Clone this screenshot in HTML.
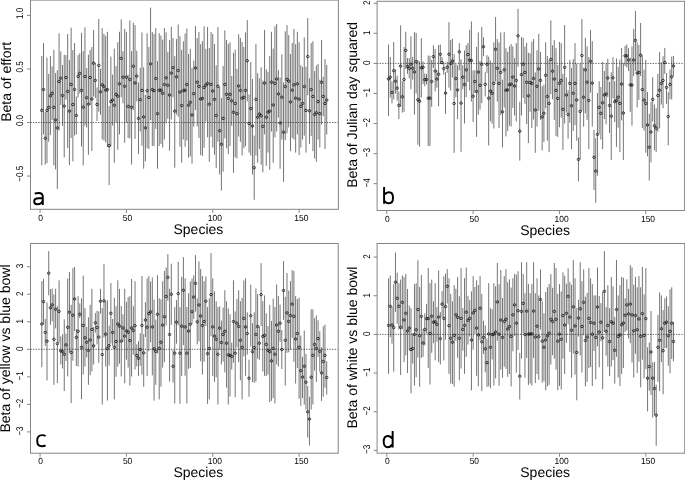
<!DOCTYPE html><html><head><meta charset="utf-8"><style>html,body{margin:0;padding:0;background:#fff;}svg{display:block;}#w{width:685px;height:480px;overflow:hidden;filter:grayscale(1);}text{font-family:"Liberation Sans",sans-serif;text-rendering:geometricPrecision;}</style></head><body>
<div id="w">
<svg width="685" height="480" viewBox="0 0 685 480">
<rect width="685" height="480" fill="#fff"/>
<path d="M41.78 55.9V165.3M43.50 43.1V134.4M45.23 112.0V164.6M46.96 57.7V163.1M48.68 73.9V141.7M50.41 55.9V135.1M52.14 66.4V120.2M53.87 49.9V165.5M55.59 73.1V169.4M57.32 70.2V189.1M59.05 33.3V130.7M60.77 51.4V105.0M62.50 65.0V126.0M64.23 54.7V157.4M65.95 55.2V99.8M67.68 34.0V148.2M69.41 59.9V165.0M71.14 27.7V138.0M72.86 50.0V161.4M74.59 43.1V135.5M76.32 96.6V134.4M78.04 55.2V97.6M79.77 53.3V93.5M81.50 32.8V146.5M83.22 51.1V165.5M84.95 27.3V125.7M86.68 67.9V127.5M88.41 54.7V154.8M90.13 50.0V105.0M91.86 47.0V150.9M93.59 29.9V96.5M95.31 62.8V98.0M97.04 87.5V121.0M98.77 19.0V111.8M100.50 68.8V114.8M102.22 28.2V139.5M103.95 33.9V140.5M105.68 35.8V142.4M107.40 31.8V147.2M109.13 106.0V185.2M110.86 56.6V146.6M112.58 74.6V125.6M114.31 48.6V162.8M116.04 66.1V122.5M117.77 42.3V149.7M119.49 31.8V134.4M121.22 19.4V97.4M122.95 51.1V103.3M124.67 28.9V142.8M126.40 31.8V122.6M128.13 74.8V138.0M129.85 20.4V138.4M131.58 51.1V164.6M133.31 22.6V110.0M135.03 25.1V138.8M136.76 50.8V101.4M138.49 82.6V154.1M140.22 67.9V131.5M141.94 32.4V145.8M143.67 67.2V168.7M145.40 95.0V161.4M147.12 33.3V148.1M148.85 47.0V149.0M150.58 7.6V120.2M152.31 32.1V146.0M154.03 33.9V146.0M155.76 28.2V128.8M157.49 61.0V168.7M159.21 33.3V146.0M160.94 35.5V143.9M162.67 39.7V147.5M164.39 28.0V139.5M166.12 32.4V123.2M167.85 51.8V118.8M169.57 40.1V150.7M171.30 26.7V119.5M173.03 38.0V97.4M174.76 56.2V167.7M176.48 39.1V114.5M178.21 24.4V116.6M179.94 36.2V146.8M181.66 49.9V162.8M183.39 41.3V139.5M185.12 33.6V146.8M186.85 28.5V140.5M188.57 54.0V157.7M190.30 48.9V156.3M192.03 67.9V163.6M193.75 60.6V126.6M195.48 26.0V110.0M197.21 38.0V126.4M198.93 32.1V138.0M200.66 44.2V155.1M202.39 41.2V156.0M204.12 26.3V147.8M205.84 48.9V121.3M207.57 27.0V137.3M209.30 47.9V161.8M211.02 32.1V136.7M212.75 34.0V147.5M214.48 44.1V154.8M216.20 65.4V168.2M217.93 27.0V141.7M219.66 86.9V174.5M221.38 98.0V190.6M223.11 66.0V171.6M224.84 30.4V138.4M226.57 39.9V148.2M228.29 43.8V154.1M230.02 42.3V146.0M231.75 76.0V125.8M233.47 52.8V172.8M235.20 49.6V157.4M236.93 68.9V158.5M238.66 34.3V136.6M240.38 38.0V141.7M242.11 42.0V155.5M243.84 47.0V148.2M245.56 32.4V146.4M247.29 20.1V101.3M249.02 94.4V152.6M250.74 62.0V155.5M252.47 79.0V174.5M254.20 135.6V199.8M255.93 44.2V155.5M257.65 73.1V162.8M259.38 78.2V149.0M261.11 67.2V164.7M262.83 80.5V172.3M264.56 29.9V134.4M266.29 69.3V165.8M268.01 71.7V152.6M269.74 55.9V169.7M271.47 31.8V131.5M273.19 48.6V162.8M274.92 26.3V137.3M276.65 24.1V131.5M278.38 70.2V117.6M280.10 77.5V168.7M281.83 54.5V139.5M283.56 82.6V181.8M285.28 31.4V140.2M287.01 25.1V133.5M288.74 35.0V127.4M290.47 54.0V151.2M292.19 43.1V138.0M293.92 28.9V139.5M295.65 44.2V152.6M297.37 31.8V134.4M299.10 42.3V155.1M300.83 65.0V147.5M302.55 66.9V139.5M304.28 37.5V135.7M306.01 66.6V152.6M307.74 18.0V95.2M309.46 78.2V143.9M311.19 43.1V136.1M312.92 41.3V151.2M314.64 71.0V158.5M316.37 65.4V161.8M318.10 63.9V139.5M319.82 79.7V147.5M321.55 40.1V124.5M323.28 76.8V116.2M325.01 59.1V149.0M326.73 65.0V134.4" stroke="#000" stroke-width="0.55" fill="none"/>
<line x1="30.5" y1="122.50" x2="338.4" y2="122.50" stroke="#333" stroke-width="0.8" stroke-dasharray="1.3 1.3"/>
<g fill="none" stroke="#000" stroke-width="0.7"><ellipse cx="41.78" cy="110.4" rx="1.3" ry="1.2"/><ellipse cx="43.50" cy="89.5" rx="1.3" ry="1.2"/><ellipse cx="45.23" cy="138.3" rx="1.3" ry="1.2"/><ellipse cx="46.96" cy="110.4" rx="1.3" ry="1.2"/><ellipse cx="48.68" cy="107.4" rx="1.3" ry="1.2"/><ellipse cx="50.41" cy="95.8" rx="1.3" ry="1.2"/><ellipse cx="52.14" cy="93.3" rx="1.3" ry="1.2"/><ellipse cx="53.87" cy="107.4" rx="1.3" ry="1.2"/><ellipse cx="55.59" cy="119.9" rx="1.3" ry="1.2"/><ellipse cx="57.32" cy="127.9" rx="1.3" ry="1.2"/><ellipse cx="59.05" cy="81.5" rx="1.3" ry="1.2"/><ellipse cx="60.77" cy="78.2" rx="1.3" ry="1.2"/><ellipse cx="62.50" cy="95.5" rx="1.3" ry="1.2"/><ellipse cx="64.23" cy="106.1" rx="1.3" ry="1.2"/><ellipse cx="65.95" cy="77.5" rx="1.3" ry="1.2"/><ellipse cx="67.68" cy="91.4" rx="1.3" ry="1.2"/><ellipse cx="69.41" cy="111.1" rx="1.3" ry="1.2"/><ellipse cx="71.14" cy="84.4" rx="1.3" ry="1.2"/><ellipse cx="72.86" cy="104.5" rx="1.3" ry="1.2"/><ellipse cx="74.59" cy="89.5" rx="1.3" ry="1.2"/><ellipse cx="76.32" cy="115.5" rx="1.3" ry="1.2"/><ellipse cx="78.04" cy="76.4" rx="1.3" ry="1.2"/><ellipse cx="79.77" cy="73.4" rx="1.3" ry="1.2"/><ellipse cx="81.50" cy="90.4" rx="1.3" ry="1.2"/><ellipse cx="83.22" cy="107.2" rx="1.3" ry="1.2"/><ellipse cx="84.95" cy="76.5" rx="1.3" ry="1.2"/><ellipse cx="86.68" cy="97.7" rx="1.3" ry="1.2"/><ellipse cx="88.41" cy="104.2" rx="1.3" ry="1.2"/><ellipse cx="90.13" cy="77.5" rx="1.3" ry="1.2"/><ellipse cx="91.86" cy="99.0" rx="1.3" ry="1.2"/><ellipse cx="93.59" cy="63.2" rx="1.3" ry="1.2"/><ellipse cx="95.31" cy="80.4" rx="1.3" ry="1.2"/><ellipse cx="97.04" cy="104.5" rx="1.3" ry="1.2"/><ellipse cx="98.77" cy="65.4" rx="1.3" ry="1.2"/><ellipse cx="100.50" cy="91.8" rx="1.3" ry="1.2"/><ellipse cx="102.22" cy="84.8" rx="1.3" ry="1.2"/><ellipse cx="103.95" cy="86.6" rx="1.3" ry="1.2"/><ellipse cx="105.68" cy="90.2" rx="1.3" ry="1.2"/><ellipse cx="107.40" cy="89.5" rx="1.3" ry="1.2"/><ellipse cx="109.13" cy="145.6" rx="1.3" ry="1.2"/><ellipse cx="110.86" cy="101.6" rx="1.3" ry="1.2"/><ellipse cx="112.58" cy="100.1" rx="1.3" ry="1.2"/><ellipse cx="114.31" cy="105.3" rx="1.3" ry="1.2"/><ellipse cx="116.04" cy="94.3" rx="1.3" ry="1.2"/><ellipse cx="117.77" cy="96.2" rx="1.3" ry="1.2"/><ellipse cx="119.49" cy="83.8" rx="1.3" ry="1.2"/><ellipse cx="121.22" cy="58.4" rx="1.3" ry="1.2"/><ellipse cx="122.95" cy="77.2" rx="1.3" ry="1.2"/><ellipse cx="124.67" cy="86.3" rx="1.3" ry="1.2"/><ellipse cx="126.40" cy="77.2" rx="1.3" ry="1.2"/><ellipse cx="128.13" cy="106.4" rx="1.3" ry="1.2"/><ellipse cx="129.85" cy="79.4" rx="1.3" ry="1.2"/><ellipse cx="131.58" cy="107.2" rx="1.3" ry="1.2"/><ellipse cx="133.31" cy="66.3" rx="1.3" ry="1.2"/><ellipse cx="135.03" cy="82.9" rx="1.3" ry="1.2"/><ellipse cx="136.76" cy="76.1" rx="1.3" ry="1.2"/><ellipse cx="138.49" cy="118.4" rx="1.3" ry="1.2"/><ellipse cx="140.22" cy="99.7" rx="1.3" ry="1.2"/><ellipse cx="141.94" cy="90.4" rx="1.3" ry="1.2"/><ellipse cx="143.67" cy="116.9" rx="1.3" ry="1.2"/><ellipse cx="145.40" cy="127.9" rx="1.3" ry="1.2"/><ellipse cx="147.12" cy="90.7" rx="1.3" ry="1.2"/><ellipse cx="148.85" cy="97.5" rx="1.3" ry="1.2"/><ellipse cx="150.58" cy="63.9" rx="1.3" ry="1.2"/><ellipse cx="152.31" cy="89.6" rx="1.3" ry="1.2"/><ellipse cx="154.03" cy="90.7" rx="1.3" ry="1.2"/><ellipse cx="155.76" cy="78.5" rx="1.3" ry="1.2"/><ellipse cx="157.49" cy="113.6" rx="1.3" ry="1.2"/><ellipse cx="159.21" cy="90.2" rx="1.3" ry="1.2"/><ellipse cx="160.94" cy="90.2" rx="1.3" ry="1.2"/><ellipse cx="162.67" cy="93.3" rx="1.3" ry="1.2"/><ellipse cx="164.39" cy="84.5" rx="1.3" ry="1.2"/><ellipse cx="166.12" cy="77.8" rx="1.3" ry="1.2"/><ellipse cx="167.85" cy="85.3" rx="1.3" ry="1.2"/><ellipse cx="169.57" cy="95.0" rx="1.3" ry="1.2"/><ellipse cx="171.30" cy="73.1" rx="1.3" ry="1.2"/><ellipse cx="173.03" cy="67.7" rx="1.3" ry="1.2"/><ellipse cx="174.76" cy="111.1" rx="1.3" ry="1.2"/><ellipse cx="176.48" cy="76.8" rx="1.3" ry="1.2"/><ellipse cx="178.21" cy="70.5" rx="1.3" ry="1.2"/><ellipse cx="179.94" cy="92.1" rx="1.3" ry="1.2"/><ellipse cx="181.66" cy="105.5" rx="1.3" ry="1.2"/><ellipse cx="183.39" cy="90.7" rx="1.3" ry="1.2"/><ellipse cx="185.12" cy="90.2" rx="1.3" ry="1.2"/><ellipse cx="186.85" cy="84.5" rx="1.3" ry="1.2"/><ellipse cx="188.57" cy="105.3" rx="1.3" ry="1.2"/><ellipse cx="190.30" cy="102.3" rx="1.3" ry="1.2"/><ellipse cx="192.03" cy="115.0" rx="1.3" ry="1.2"/><ellipse cx="193.75" cy="93.6" rx="1.3" ry="1.2"/><ellipse cx="195.48" cy="68.0" rx="1.3" ry="1.2"/><ellipse cx="197.21" cy="82.2" rx="1.3" ry="1.2"/><ellipse cx="198.93" cy="86.3" rx="1.3" ry="1.2"/><ellipse cx="200.66" cy="99.1" rx="1.3" ry="1.2"/><ellipse cx="202.39" cy="98.4" rx="1.3" ry="1.2"/><ellipse cx="204.12" cy="87.4" rx="1.3" ry="1.2"/><ellipse cx="205.84" cy="85.1" rx="1.3" ry="1.2"/><ellipse cx="207.57" cy="83.4" rx="1.3" ry="1.2"/><ellipse cx="209.30" cy="104.2" rx="1.3" ry="1.2"/><ellipse cx="211.02" cy="84.4" rx="1.3" ry="1.2"/><ellipse cx="212.75" cy="91.0" rx="1.3" ry="1.2"/><ellipse cx="214.48" cy="99.4" rx="1.3" ry="1.2"/><ellipse cx="216.20" cy="115.5" rx="1.3" ry="1.2"/><ellipse cx="217.93" cy="86.3" rx="1.3" ry="1.2"/><ellipse cx="219.66" cy="130.7" rx="1.3" ry="1.2"/><ellipse cx="221.38" cy="144.3" rx="1.3" ry="1.2"/><ellipse cx="223.11" cy="118.4" rx="1.3" ry="1.2"/><ellipse cx="224.84" cy="84.4" rx="1.3" ry="1.2"/><ellipse cx="226.57" cy="94.3" rx="1.3" ry="1.2"/><ellipse cx="228.29" cy="98.4" rx="1.3" ry="1.2"/><ellipse cx="230.02" cy="94.3" rx="1.3" ry="1.2"/><ellipse cx="231.75" cy="100.9" rx="1.3" ry="1.2"/><ellipse cx="233.47" cy="112.3" rx="1.3" ry="1.2"/><ellipse cx="235.20" cy="103.5" rx="1.3" ry="1.2"/><ellipse cx="236.93" cy="113.7" rx="1.3" ry="1.2"/><ellipse cx="238.66" cy="86.0" rx="1.3" ry="1.2"/><ellipse cx="240.38" cy="90.4" rx="1.3" ry="1.2"/><ellipse cx="242.11" cy="98.2" rx="1.3" ry="1.2"/><ellipse cx="243.84" cy="97.4" rx="1.3" ry="1.2"/><ellipse cx="245.56" cy="90.4" rx="1.3" ry="1.2"/><ellipse cx="247.29" cy="60.7" rx="1.3" ry="1.2"/><ellipse cx="249.02" cy="123.5" rx="1.3" ry="1.2"/><ellipse cx="250.74" cy="108.5" rx="1.3" ry="1.2"/><ellipse cx="252.47" cy="126.0" rx="1.3" ry="1.2"/><ellipse cx="254.20" cy="167.7" rx="1.3" ry="1.2"/><ellipse cx="255.93" cy="99.4" rx="1.3" ry="1.2"/><ellipse cx="257.65" cy="117.2" rx="1.3" ry="1.2"/><ellipse cx="259.38" cy="114.0" rx="1.3" ry="1.2"/><ellipse cx="261.11" cy="115.8" rx="1.3" ry="1.2"/><ellipse cx="262.83" cy="126.4" rx="1.3" ry="1.2"/><ellipse cx="264.56" cy="83.1" rx="1.3" ry="1.2"/><ellipse cx="266.29" cy="117.2" rx="1.3" ry="1.2"/><ellipse cx="268.01" cy="112.1" rx="1.3" ry="1.2"/><ellipse cx="269.74" cy="111.1" rx="1.3" ry="1.2"/><ellipse cx="271.47" cy="82.2" rx="1.3" ry="1.2"/><ellipse cx="273.19" cy="105.0" rx="1.3" ry="1.2"/><ellipse cx="274.92" cy="83.4" rx="1.3" ry="1.2"/><ellipse cx="276.65" cy="79.0" rx="1.3" ry="1.2"/><ellipse cx="278.38" cy="93.9" rx="1.3" ry="1.2"/><ellipse cx="280.10" cy="123.1" rx="1.3" ry="1.2"/><ellipse cx="281.83" cy="97.2" rx="1.3" ry="1.2"/><ellipse cx="283.56" cy="132.2" rx="1.3" ry="1.2"/><ellipse cx="285.28" cy="86.6" rx="1.3" ry="1.2"/><ellipse cx="287.01" cy="79.3" rx="1.3" ry="1.2"/><ellipse cx="288.74" cy="81.2" rx="1.3" ry="1.2"/><ellipse cx="290.47" cy="101.9" rx="1.3" ry="1.2"/><ellipse cx="292.19" cy="90.2" rx="1.3" ry="1.2"/><ellipse cx="293.92" cy="84.8" rx="1.3" ry="1.2"/><ellipse cx="295.65" cy="98.2" rx="1.3" ry="1.2"/><ellipse cx="297.37" cy="83.8" rx="1.3" ry="1.2"/><ellipse cx="299.10" cy="99.1" rx="1.3" ry="1.2"/><ellipse cx="300.83" cy="106.4" rx="1.3" ry="1.2"/><ellipse cx="302.55" cy="103.4" rx="1.3" ry="1.2"/><ellipse cx="304.28" cy="86.6" rx="1.3" ry="1.2"/><ellipse cx="306.01" cy="110.4" rx="1.3" ry="1.2"/><ellipse cx="307.74" cy="56.6" rx="1.3" ry="1.2"/><ellipse cx="309.46" cy="110.8" rx="1.3" ry="1.2"/><ellipse cx="311.19" cy="89.6" rx="1.3" ry="1.2"/><ellipse cx="312.92" cy="96.5" rx="1.3" ry="1.2"/><ellipse cx="314.64" cy="114.5" rx="1.3" ry="1.2"/><ellipse cx="316.37" cy="112.8" rx="1.3" ry="1.2"/><ellipse cx="318.10" cy="101.6" rx="1.3" ry="1.2"/><ellipse cx="319.82" cy="113.6" rx="1.3" ry="1.2"/><ellipse cx="321.55" cy="82.3" rx="1.3" ry="1.2"/><ellipse cx="323.28" cy="96.5" rx="1.3" ry="1.2"/><ellipse cx="325.01" cy="103.5" rx="1.3" ry="1.2"/><ellipse cx="326.73" cy="100.1" rx="1.3" ry="1.2"/></g>
<rect x="30.5" y="0.1" width="307.9" height="209.2" fill="none" stroke="#858585" stroke-width="1"/>
<line x1="40.05" y1="209.4" x2="40.05" y2="212.9" stroke="#858585" stroke-width="1"/>
<text transform="translate(40.50 221.00) scale(1 1.04)" font-size="8.5" text-anchor="middle" fill="#000">0</text>
<line x1="126.40" y1="209.4" x2="126.40" y2="212.9" stroke="#858585" stroke-width="1"/>
<text transform="translate(127.60 221.00) scale(1 1.04)" font-size="8.5" text-anchor="middle" fill="#000">50</text>
<line x1="212.75" y1="209.4" x2="212.75" y2="212.9" stroke="#858585" stroke-width="1"/>
<text transform="translate(214.95 221.00) scale(1 1.04)" font-size="8.5" text-anchor="middle" fill="#000">100</text>
<line x1="299.10" y1="209.4" x2="299.10" y2="212.9" stroke="#858585" stroke-width="1"/>
<text transform="translate(301.30 221.00) scale(1 1.04)" font-size="8.5" text-anchor="middle" fill="#000">150</text>
<line x1="27.0" y1="176.05" x2="30.5" y2="176.05" stroke="#858585" stroke-width="1"/>
<text transform="translate(23.10 173.85) rotate(-90) scale(0.95 1.15)" font-size="8.5" text-anchor="middle" fill="#000">−0.5</text>
<line x1="27.0" y1="122.50" x2="30.5" y2="122.50" stroke="#858585" stroke-width="1"/>
<text transform="translate(23.10 120.50) rotate(-90) scale(0.95 1.15)" font-size="8.5" text-anchor="middle" fill="#000">0.0</text>
<line x1="27.0" y1="68.95" x2="30.5" y2="68.95" stroke="#858585" stroke-width="1"/>
<text transform="translate(23.10 66.95) rotate(-90) scale(0.95 1.15)" font-size="8.5" text-anchor="middle" fill="#000">0.5</text>
<line x1="27.0" y1="15.40" x2="30.5" y2="15.40" stroke="#858585" stroke-width="1"/>
<text transform="translate(23.10 13.40) rotate(-90) scale(0.95 1.15)" font-size="8.5" text-anchor="middle" fill="#000">1.0</text>
<text x="198.4" y="233.9" font-size="14" text-anchor="middle" fill="#000">Species</text>
<text transform="translate(10.50 81.85) rotate(-90)" font-size="14" text-anchor="middle" fill="#000">Beta of effort</text>
<path d="M34.7 193.7C36.0 193.0 37.6 192.9 38.9 192.9C41.6 192.9 42.8 194.2 42.8 196.9V205.1M42.8 198.3H38.6C35.6 198.3 34.2 199.5 34.2 201.5C34.2 203.3 35.4 204.3 37.3 204.3C40.3 204.3 42.8 202.4 42.8 199.3" stroke="#000" stroke-width="1.95" fill="none"/>
<path d="M388.52 44.5V116.2M390.24 56.9V97.5M391.97 81.3V103.5M393.70 42.0V99.4M395.42 69.3V93.6M397.15 75.8V100.6M398.88 91.5V119.1M400.60 25.3V106.9M402.33 81.0V112.6M404.06 47.0V111.8M405.78 31.8V69.0M407.51 58.1V73.9M409.24 58.1V78.2M410.96 36.2V89.2M412.69 56.9V79.7M414.42 32.1V114.7M416.14 32.8V93.6M417.87 60.1V144.8M419.60 61.3V146.7M421.32 38.2V97.6M423.05 61.3V84.1M424.78 73.5V86.3M426.50 74.0V84.5M428.23 55.5V146.0M429.96 55.8V146.0M431.68 59.9V106.7M433.41 45.3V68.0M435.14 48.9V91.4M436.86 70.3V87.7M438.59 45.0V106.4M440.32 44.5V64.1M442.04 56.9V64.4M443.77 62.6V74.6M445.50 72.2V114.0M447.22 61.6V72.8M448.95 22.2V87.7M450.68 40.1V90.7M452.40 38.7V77.5M454.13 54.2V152.8M455.86 64.2V97.2M457.58 65.4V119.1M459.31 43.1V70.2M461.04 59.1V151.8M462.76 65.2V89.2M464.49 50.4V123.5M466.22 45.3V97.2M467.94 43.1V81.9M469.67 29.7V90.5M471.40 21.5V101.6M473.12 70.4V122.0M474.85 70.2V92.8M476.58 47.0V136.8M478.31 32.4V114.7M480.03 61.0V109.6M481.76 27.0V103.1M483.49 37.2V56.2M485.21 72.3V96.5M486.94 55.2V73.1M488.67 56.6V145.5M490.39 60.6V121.4M492.12 62.9V123.7M493.85 42.3V128.5M495.57 17.1V81.5M497.30 39.1V101.6M499.03 42.3V128.0M500.75 32.4V115.2M502.48 79.7V147.4M504.21 32.1V107.5M505.93 48.2V136.4M507.66 51.8V131.0M509.39 46.4V125.8M511.11 44.1V126.6M512.84 46.4V107.8M514.57 58.1V115.5M516.29 43.1V121.5M518.02 8.8V66.6M519.75 101.8V160.6M521.47 37.2V115.5M523.20 37.7V98.0M524.93 46.4V103.8M526.65 42.8V124.1M528.38 52.8V143.1M530.11 53.3V111.9M531.83 41.6V128.0M533.56 39.1V119.6M535.29 72.4V152.8M537.01 50.4V126.6M538.74 33.9V110.8M540.47 51.8V119.9M542.19 86.3V150.4M543.92 84.7V141.9M545.65 42.3V108.3M547.37 55.9V140.7M549.10 59.9V152.1M550.83 20.4V94.3M552.55 45.3V99.4M554.28 40.1V119.9M556.01 48.2V136.1M557.73 65.0V136.8M559.46 42.0V127.3M561.19 43.1V117.7M562.91 73.9V149.9M564.64 25.1V123.5M566.37 77.5V112.5M568.09 90.3V138.7M569.82 60.1V122.8M571.55 68.0V149.2M573.27 59.1V131.0M575.00 43.1V125.1M576.73 63.5V140.7M578.45 137.5V181.3M580.18 63.4V159.4M581.91 19.0V111.1M583.63 67.8V126.6M585.36 37.7V113.3M587.09 46.4V119.9M588.81 56.9V149.1M590.54 29.9V92.7M592.27 41.2V126.5M593.99 130.0V190.0M595.72 138.0V202.8M597.45 93.0V175.7M599.17 81.2V133.6M600.90 87.0V139.6M602.63 62.0V149.1M604.35 71.0V119.0M606.08 63.5V124.3M607.81 58.8V97.2M609.53 81.9V133.0M611.26 72.4V160.0M612.99 57.2V98.4M614.71 81.2V122.0M616.44 58.4V146.9M618.17 66.8V127.6M619.89 59.6V152.0M621.62 47.9V120.3M623.35 62.8V160.0M625.07 46.0V66.0M626.80 44.5V67.3M628.53 48.2V71.0M630.25 57.7V111.9M631.98 46.4V125.7M633.71 28.8V76.1M635.43 10.9V71.0M637.16 42.3V107.4M638.89 45.0V99.8M640.61 22.9V76.1M642.34 55.5V128.0M644.07 69.7V130.5M645.80 59.9V152.7M647.52 92.1V156.4M649.25 113.9V180.5M650.98 101.6V162.4M652.70 77.2V121.6M654.43 104.5V150.5M656.16 108.2V152.0M657.88 73.9V131.6M659.61 52.1V128.3M661.34 62.5V104.5M663.06 56.2V108.2M664.79 47.9V73.9M666.52 73.1V103.8M668.24 92.1V145.4M669.97 69.5V99.3M671.70 56.6V99.4M673.42 55.9V76.1" stroke="#000" stroke-width="0.55" fill="none"/>
<line x1="377.1" y1="63.40" x2="684.6" y2="63.40" stroke="#333" stroke-width="0.8" stroke-dasharray="1.3 1.3"/>
<g fill="none" stroke="#000" stroke-width="0.7"><ellipse cx="388.52" cy="79.0" rx="1.3" ry="1.2"/><ellipse cx="390.24" cy="77.2" rx="1.3" ry="1.2"/><ellipse cx="391.97" cy="92.4" rx="1.3" ry="1.2"/><ellipse cx="393.70" cy="70.7" rx="1.3" ry="1.2"/><ellipse cx="395.42" cy="81.2" rx="1.3" ry="1.2"/><ellipse cx="397.15" cy="88.2" rx="1.3" ry="1.2"/><ellipse cx="398.88" cy="105.3" rx="1.3" ry="1.2"/><ellipse cx="400.60" cy="66.1" rx="1.3" ry="1.2"/><ellipse cx="402.33" cy="96.8" rx="1.3" ry="1.2"/><ellipse cx="404.06" cy="79.4" rx="1.3" ry="1.2"/><ellipse cx="405.78" cy="50.4" rx="1.3" ry="1.2"/><ellipse cx="407.51" cy="66.4" rx="1.3" ry="1.2"/><ellipse cx="409.24" cy="68.3" rx="1.3" ry="1.2"/><ellipse cx="410.96" cy="64.2" rx="1.3" ry="1.2"/><ellipse cx="412.69" cy="68.3" rx="1.3" ry="1.2"/><ellipse cx="414.42" cy="72.0" rx="1.3" ry="1.2"/><ellipse cx="416.14" cy="61.6" rx="1.3" ry="1.2"/><ellipse cx="417.87" cy="99.7" rx="1.3" ry="1.2"/><ellipse cx="419.60" cy="101.2" rx="1.3" ry="1.2"/><ellipse cx="421.32" cy="67.9" rx="1.3" ry="1.2"/><ellipse cx="423.05" cy="67.2" rx="1.3" ry="1.2"/><ellipse cx="424.78" cy="79.7" rx="1.3" ry="1.2"/><ellipse cx="426.50" cy="79.5" rx="1.3" ry="1.2"/><ellipse cx="428.23" cy="98.2" rx="1.3" ry="1.2"/><ellipse cx="429.96" cy="98.2" rx="1.3" ry="1.2"/><ellipse cx="431.68" cy="81.5" rx="1.3" ry="1.2"/><ellipse cx="433.41" cy="56.6" rx="1.3" ry="1.2"/><ellipse cx="435.14" cy="71.0" rx="1.3" ry="1.2"/><ellipse cx="436.86" cy="79.0" rx="1.3" ry="1.2"/><ellipse cx="438.59" cy="74.3" rx="1.3" ry="1.2"/><ellipse cx="440.32" cy="54.3" rx="1.3" ry="1.2"/><ellipse cx="442.04" cy="62.5" rx="1.3" ry="1.2"/><ellipse cx="443.77" cy="68.6" rx="1.3" ry="1.2"/><ellipse cx="445.50" cy="93.1" rx="1.3" ry="1.2"/><ellipse cx="447.22" cy="67.2" rx="1.3" ry="1.2"/><ellipse cx="448.95" cy="54.3" rx="1.3" ry="1.2"/><ellipse cx="450.68" cy="63.5" rx="1.3" ry="1.2"/><ellipse cx="452.40" cy="61.0" rx="1.3" ry="1.2"/><ellipse cx="454.13" cy="103.5" rx="1.3" ry="1.2"/><ellipse cx="455.86" cy="78.5" rx="1.3" ry="1.2"/><ellipse cx="457.58" cy="89.9" rx="1.3" ry="1.2"/><ellipse cx="459.31" cy="51.8" rx="1.3" ry="1.2"/><ellipse cx="461.04" cy="103.1" rx="1.3" ry="1.2"/><ellipse cx="462.76" cy="77.2" rx="1.3" ry="1.2"/><ellipse cx="464.49" cy="84.5" rx="1.3" ry="1.2"/><ellipse cx="466.22" cy="69.8" rx="1.3" ry="1.2"/><ellipse cx="467.94" cy="54.5" rx="1.3" ry="1.2"/><ellipse cx="469.67" cy="60.1" rx="1.3" ry="1.2"/><ellipse cx="471.40" cy="60.6" rx="1.3" ry="1.2"/><ellipse cx="473.12" cy="96.2" rx="1.3" ry="1.2"/><ellipse cx="474.85" cy="81.5" rx="1.3" ry="1.2"/><ellipse cx="476.58" cy="91.4" rx="1.3" ry="1.2"/><ellipse cx="478.31" cy="72.1" rx="1.3" ry="1.2"/><ellipse cx="480.03" cy="85.3" rx="1.3" ry="1.2"/><ellipse cx="481.76" cy="64.2" rx="1.3" ry="1.2"/><ellipse cx="483.49" cy="46.7" rx="1.3" ry="1.2"/><ellipse cx="485.21" cy="84.4" rx="1.3" ry="1.2"/><ellipse cx="486.94" cy="64.2" rx="1.3" ry="1.2"/><ellipse cx="488.67" cy="98.2" rx="1.3" ry="1.2"/><ellipse cx="490.39" cy="91.0" rx="1.3" ry="1.2"/><ellipse cx="492.12" cy="93.3" rx="1.3" ry="1.2"/><ellipse cx="493.85" cy="83.4" rx="1.3" ry="1.2"/><ellipse cx="495.57" cy="49.3" rx="1.3" ry="1.2"/><ellipse cx="497.30" cy="68.3" rx="1.3" ry="1.2"/><ellipse cx="499.03" cy="83.4" rx="1.3" ry="1.2"/><ellipse cx="500.75" cy="72.4" rx="1.3" ry="1.2"/><ellipse cx="502.48" cy="111.8" rx="1.3" ry="1.2"/><ellipse cx="504.21" cy="69.8" rx="1.3" ry="1.2"/><ellipse cx="505.93" cy="90.2" rx="1.3" ry="1.2"/><ellipse cx="507.66" cy="89.9" rx="1.3" ry="1.2"/><ellipse cx="509.39" cy="84.8" rx="1.3" ry="1.2"/><ellipse cx="511.11" cy="84.1" rx="1.3" ry="1.2"/><ellipse cx="512.84" cy="77.1" rx="1.3" ry="1.2"/><ellipse cx="514.57" cy="86.0" rx="1.3" ry="1.2"/><ellipse cx="516.29" cy="80.4" rx="1.3" ry="1.2"/><ellipse cx="518.02" cy="35.8" rx="1.3" ry="1.2"/><ellipse cx="519.75" cy="131.2" rx="1.3" ry="1.2"/><ellipse cx="521.47" cy="74.6" rx="1.3" ry="1.2"/><ellipse cx="523.20" cy="64.2" rx="1.3" ry="1.2"/><ellipse cx="524.93" cy="72.4" rx="1.3" ry="1.2"/><ellipse cx="526.65" cy="82.3" rx="1.3" ry="1.2"/><ellipse cx="528.38" cy="95.8" rx="1.3" ry="1.2"/><ellipse cx="530.11" cy="82.6" rx="1.3" ry="1.2"/><ellipse cx="531.83" cy="83.4" rx="1.3" ry="1.2"/><ellipse cx="533.56" cy="78.5" rx="1.3" ry="1.2"/><ellipse cx="535.29" cy="109.9" rx="1.3" ry="1.2"/><ellipse cx="537.01" cy="86.3" rx="1.3" ry="1.2"/><ellipse cx="538.74" cy="68.9" rx="1.3" ry="1.2"/><ellipse cx="540.47" cy="80.4" rx="1.3" ry="1.2"/><ellipse cx="542.19" cy="116.9" rx="1.3" ry="1.2"/><ellipse cx="543.92" cy="113.3" rx="1.3" ry="1.2"/><ellipse cx="545.65" cy="75.3" rx="1.3" ry="1.2"/><ellipse cx="547.37" cy="96.5" rx="1.3" ry="1.2"/><ellipse cx="549.10" cy="103.4" rx="1.3" ry="1.2"/><ellipse cx="550.83" cy="59.4" rx="1.3" ry="1.2"/><ellipse cx="552.55" cy="71.2" rx="1.3" ry="1.2"/><ellipse cx="554.28" cy="79.0" rx="1.3" ry="1.2"/><ellipse cx="556.01" cy="90.4" rx="1.3" ry="1.2"/><ellipse cx="557.73" cy="98.4" rx="1.3" ry="1.2"/><ellipse cx="559.46" cy="83.4" rx="1.3" ry="1.2"/><ellipse cx="561.19" cy="80.4" rx="1.3" ry="1.2"/><ellipse cx="562.91" cy="109.3" rx="1.3" ry="1.2"/><ellipse cx="564.64" cy="67.4" rx="1.3" ry="1.2"/><ellipse cx="566.37" cy="95.0" rx="1.3" ry="1.2"/><ellipse cx="568.09" cy="114.5" rx="1.3" ry="1.2"/><ellipse cx="569.82" cy="83.4" rx="1.3" ry="1.2"/><ellipse cx="571.55" cy="105.7" rx="1.3" ry="1.2"/><ellipse cx="573.27" cy="93.3" rx="1.3" ry="1.2"/><ellipse cx="575.00" cy="83.4" rx="1.3" ry="1.2"/><ellipse cx="576.73" cy="99.9" rx="1.3" ry="1.2"/><ellipse cx="578.45" cy="159.4" rx="1.3" ry="1.2"/><ellipse cx="580.18" cy="111.4" rx="1.3" ry="1.2"/><ellipse cx="581.91" cy="55.5" rx="1.3" ry="1.2"/><ellipse cx="583.63" cy="97.2" rx="1.3" ry="1.2"/><ellipse cx="585.36" cy="69.8" rx="1.3" ry="1.2"/><ellipse cx="587.09" cy="82.2" rx="1.3" ry="1.2"/><ellipse cx="588.81" cy="100.4" rx="1.3" ry="1.2"/><ellipse cx="590.54" cy="61.3" rx="1.3" ry="1.2"/><ellipse cx="592.27" cy="83.1" rx="1.3" ry="1.2"/><ellipse cx="593.99" cy="157.3" rx="1.3" ry="1.2"/><ellipse cx="595.72" cy="171.1" rx="1.3" ry="1.2"/><ellipse cx="597.45" cy="134.4" rx="1.3" ry="1.2"/><ellipse cx="599.17" cy="107.4" rx="1.3" ry="1.2"/><ellipse cx="600.90" cy="113.3" rx="1.3" ry="1.2"/><ellipse cx="602.63" cy="102.8" rx="1.3" ry="1.2"/><ellipse cx="604.35" cy="95.0" rx="1.3" ry="1.2"/><ellipse cx="606.08" cy="93.9" rx="1.3" ry="1.2"/><ellipse cx="607.81" cy="78.0" rx="1.3" ry="1.2"/><ellipse cx="609.53" cy="105.5" rx="1.3" ry="1.2"/><ellipse cx="611.26" cy="116.2" rx="1.3" ry="1.2"/><ellipse cx="612.99" cy="77.8" rx="1.3" ry="1.2"/><ellipse cx="614.71" cy="101.6" rx="1.3" ry="1.2"/><ellipse cx="616.44" cy="100.6" rx="1.3" ry="1.2"/><ellipse cx="618.17" cy="97.2" rx="1.3" ry="1.2"/><ellipse cx="619.89" cy="103.4" rx="1.3" ry="1.2"/><ellipse cx="621.62" cy="84.1" rx="1.3" ry="1.2"/><ellipse cx="623.35" cy="113.0" rx="1.3" ry="1.2"/><ellipse cx="625.07" cy="55.8" rx="1.3" ry="1.2"/><ellipse cx="626.80" cy="55.9" rx="1.3" ry="1.2"/><ellipse cx="628.53" cy="59.9" rx="1.3" ry="1.2"/><ellipse cx="630.25" cy="84.8" rx="1.3" ry="1.2"/><ellipse cx="631.98" cy="85.1" rx="1.3" ry="1.2"/><ellipse cx="633.71" cy="60.1" rx="1.3" ry="1.2"/><ellipse cx="635.43" cy="40.4" rx="1.3" ry="1.2"/><ellipse cx="637.16" cy="73.1" rx="1.3" ry="1.2"/><ellipse cx="638.89" cy="72.4" rx="1.3" ry="1.2"/><ellipse cx="640.61" cy="55.2" rx="1.3" ry="1.2"/><ellipse cx="642.34" cy="89.6" rx="1.3" ry="1.2"/><ellipse cx="644.07" cy="100.1" rx="1.3" ry="1.2"/><ellipse cx="645.80" cy="103.5" rx="1.3" ry="1.2"/><ellipse cx="647.52" cy="125.0" rx="1.3" ry="1.2"/><ellipse cx="649.25" cy="147.2" rx="1.3" ry="1.2"/><ellipse cx="650.98" cy="132.0" rx="1.3" ry="1.2"/><ellipse cx="652.70" cy="99.4" rx="1.3" ry="1.2"/><ellipse cx="654.43" cy="125.7" rx="1.3" ry="1.2"/><ellipse cx="656.16" cy="128.3" rx="1.3" ry="1.2"/><ellipse cx="657.88" cy="95.5" rx="1.3" ry="1.2"/><ellipse cx="659.61" cy="90.2" rx="1.3" ry="1.2"/><ellipse cx="661.34" cy="83.4" rx="1.3" ry="1.2"/><ellipse cx="663.06" cy="80.4" rx="1.3" ry="1.2"/><ellipse cx="664.79" cy="62.5" rx="1.3" ry="1.2"/><ellipse cx="666.52" cy="87.4" rx="1.3" ry="1.2"/><ellipse cx="668.24" cy="116.5" rx="1.3" ry="1.2"/><ellipse cx="669.97" cy="84.4" rx="1.3" ry="1.2"/><ellipse cx="671.70" cy="76.8" rx="1.3" ry="1.2"/><ellipse cx="673.42" cy="66.0" rx="1.3" ry="1.2"/></g>
<rect x="377.1" y="1.3" width="307.5" height="209.2" fill="none" stroke="#858585" stroke-width="1"/>
<line x1="386.79" y1="210.5" x2="386.79" y2="214.0" stroke="#858585" stroke-width="1"/>
<text transform="translate(387.24 221.70) scale(1 1.04)" font-size="8.5" text-anchor="middle" fill="#000">0</text>
<line x1="473.12" y1="210.5" x2="473.12" y2="214.0" stroke="#858585" stroke-width="1"/>
<text transform="translate(474.32 221.70) scale(1 1.04)" font-size="8.5" text-anchor="middle" fill="#000">50</text>
<line x1="559.46" y1="210.5" x2="559.46" y2="214.0" stroke="#858585" stroke-width="1"/>
<text transform="translate(561.66 221.70) scale(1 1.04)" font-size="8.5" text-anchor="middle" fill="#000">100</text>
<line x1="645.80" y1="210.5" x2="645.80" y2="214.0" stroke="#858585" stroke-width="1"/>
<text transform="translate(648.00 221.70) scale(1 1.04)" font-size="8.5" text-anchor="middle" fill="#000">150</text>
<line x1="373.6" y1="183.68" x2="377.1" y2="183.68" stroke="#858585" stroke-width="1"/>
<text transform="translate(369.70 182.78) rotate(-90) scale(0.95 1.15)" font-size="8.5" text-anchor="middle" fill="#000">−4</text>
<line x1="373.6" y1="153.61" x2="377.1" y2="153.61" stroke="#858585" stroke-width="1"/>
<text transform="translate(369.70 152.71) rotate(-90) scale(0.95 1.15)" font-size="8.5" text-anchor="middle" fill="#000">−3</text>
<line x1="373.6" y1="123.54" x2="377.1" y2="123.54" stroke="#858585" stroke-width="1"/>
<text transform="translate(369.70 122.64) rotate(-90) scale(0.95 1.15)" font-size="8.5" text-anchor="middle" fill="#000">−2</text>
<line x1="373.6" y1="93.47" x2="377.1" y2="93.47" stroke="#858585" stroke-width="1"/>
<text transform="translate(369.70 92.57) rotate(-90) scale(0.95 1.15)" font-size="8.5" text-anchor="middle" fill="#000">−1</text>
<line x1="373.6" y1="63.40" x2="377.1" y2="63.40" stroke="#858585" stroke-width="1"/>
<text transform="translate(369.70 62.80) rotate(-90) scale(0.95 1.15)" font-size="8.5" text-anchor="middle" fill="#000">0</text>
<line x1="373.6" y1="33.33" x2="377.1" y2="33.33" stroke="#858585" stroke-width="1"/>
<text transform="translate(369.70 32.73) rotate(-90) scale(0.95 1.15)" font-size="8.5" text-anchor="middle" fill="#000">1</text>
<line x1="373.6" y1="3.26" x2="377.1" y2="3.26" stroke="#858585" stroke-width="1"/>
<text transform="translate(369.70 2.66) rotate(-90) scale(0.95 1.15)" font-size="8.5" text-anchor="middle" fill="#000">2</text>
<text x="545.1" y="234.5" font-size="14" text-anchor="middle" fill="#000">Species</text>
<text transform="translate(357.30 104.90) rotate(-90)" font-size="14" text-anchor="middle" fill="#000">Beta of Julian day squared</text>
<path d="M384.1 187V203.7M384.6 194.6C385.6 193.0 387.3 192.3 389.0 192.3C391.6 192.3 393.0 194.6 393.0 197.8C393.0 201.0 391.6 203.3 389.0 203.3C387.3 203.3 385.6 202.6 384.6 201.0" stroke="#000" stroke-width="1.95" fill="none"/>
<path d="M41.82 281.2V367.3M43.54 278.9V324.3M45.27 318.9V345.9M47.00 302.4V380.4M48.72 251.1V295.3M50.45 289.1V324.7M52.18 288.5V321.3M53.90 294.3V384.8M55.63 288.8V328.4M57.36 306.3V383.1M59.08 280.3V342.5M60.81 336.4V364.4M62.54 334.2V368.5M64.26 319.3V391.0M65.99 333.5V361.0M67.72 278.6V376.4M69.44 272.0V352.4M71.17 304.9V403.1M72.90 268.1V360.7M74.62 266.9V331.1M76.35 329.0V366.0M78.08 296.1V366.5M79.80 303.4V318.1M81.53 298.3V399.1M83.25 275.7V374.6M84.98 308.1V366.6M86.71 326.9V357.5M88.43 317.4V384.8M90.16 304.8V375.2M91.89 288.8V371.4M93.61 326.9V364.4M95.34 312.9V332.7M97.07 310.8V344.4M98.79 311.4V362.9M100.52 288.8V313.6M102.25 308.2V404.5M103.97 264.0V337.6M105.70 301.2V366.6M107.43 300.2V400.6M109.15 325.7V365.5M110.88 283.0V343.6M112.61 318.9V345.9M114.33 297.8V399.4M116.06 306.3V376.7M117.79 280.3V366.6M119.51 288.8V363.6M121.24 306.0V376.4M122.97 314.3V341.5M124.69 288.8V383.4M126.42 301.9V359.7M128.15 297.1V367.5M129.87 296.1V385.5M131.60 279.0V376.5M133.33 306.3V354.7M135.05 281.2V369.5M136.78 344.4V366.4M138.51 341.2V375.8M140.23 333.2V365.8M141.96 276.0V374.6M143.69 334.2V386.7M145.41 302.2V337.1M147.14 278.3V376.1M148.87 276.0V351.2M150.59 281.5V342.3M152.32 277.4V375.3M154.05 299.7V400.6M155.77 319.6V384.8M157.50 275.2V353.4M159.23 298.3V399.4M160.95 299.3V386.7M162.68 281.2V367.6M164.41 271.0V362.2M166.13 267.6V325.4M167.86 254.1V300.7M169.59 288.8V381.6M171.31 263.7V324.9M173.04 350.0V382.6M174.76 307.0V403.5M176.49 300.2V343.7M178.22 261.8V325.4M179.94 307.0V403.8M181.67 276.8V375.8M183.40 257.1V345.1M185.12 278.3V375.8M186.85 307.0V403.5M188.58 293.2V368.8M190.30 281.5V368.0M192.03 278.6V324.0M193.76 275.2V319.0M195.48 255.2V311.6M197.21 298.3V344.4M198.94 261.4V341.5M200.66 269.1V361.2M202.39 276.0V374.6M204.12 281.2V361.8M205.84 276.4V326.0M207.57 307.0V403.8M209.30 298.3V399.4M211.02 253.0V336.2M212.75 278.3V376.1M214.48 291.4V381.9M216.20 301.2V377.4M217.93 307.0V404.5M219.66 306.3V349.9M221.38 320.6V364.4M223.11 307.5V361.5M224.84 290.3V372.4M226.56 301.2V387.7M228.29 308.5V404.5M230.02 314.3V396.5M231.74 342.7V369.5M233.47 280.3V362.7M235.20 311.4V397.2M236.92 299.0V347.4M238.65 290.3V362.2M240.38 301.2V380.4M242.10 297.8V399.4M243.83 280.5V356.3M245.56 278.3V375.8M247.28 312.4V354.6M249.01 359.6V396.8M250.74 284.7V346.7M252.46 323.2V381.9M254.19 312.4V382.8M255.91 288.5V381.6M257.64 294.2V358.8M259.37 326.6V359.8M261.09 263.2V326.0M262.82 301.2V371.6M264.55 295.4V375.8M266.27 313.3V376.1M268.00 326.0V374.6M269.73 304.9V402.3M271.45 320.9V400.9M273.18 298.7V398.1M274.91 307.0V403.5M276.63 284.4V364.4M278.36 296.1V366.5M280.09 304.6V341.8M281.81 330.0V369.0M283.54 261.1V319.9M285.27 296.8V385.5M286.99 273.0V352.8M288.72 290.5V352.3M290.45 281.2V349.8M292.17 270.1V338.1M293.90 271.0V361.8M295.63 296.1V383.6M297.35 299.0V368.0M299.08 297.6V398.7M300.81 335.5V405.9M302.53 356.8V398.0M304.26 330.5V404.5M305.99 353.9V409.6M307.71 386.0V437.6M309.44 396.8V445.6M311.17 309.2V409.6M312.89 309.4V404.5M314.62 318.1V370.7M316.35 315.5V381.9M318.07 320.3V356.9M319.80 331.3V371.7M321.53 347.3V400.9M323.25 326.3V396.7M324.98 324.7V387.7M326.71 361.2V394.6" stroke="#000" stroke-width="0.55" fill="none"/>
<line x1="30.5" y1="349.30" x2="338.2" y2="349.30" stroke="#333" stroke-width="0.8" stroke-dasharray="1.3 1.3"/>
<g fill="none" stroke="#000" stroke-width="0.7"><ellipse cx="41.82" cy="324.0" rx="1.3" ry="1.2"/><ellipse cx="43.54" cy="301.6" rx="1.3" ry="1.2"/><ellipse cx="45.27" cy="332.4" rx="1.3" ry="1.2"/><ellipse cx="47.00" cy="341.2" rx="1.3" ry="1.2"/><ellipse cx="48.72" cy="273.2" rx="1.3" ry="1.2"/><ellipse cx="50.45" cy="307.8" rx="1.3" ry="1.2"/><ellipse cx="52.18" cy="304.9" rx="1.3" ry="1.2"/><ellipse cx="53.90" cy="339.3" rx="1.3" ry="1.2"/><ellipse cx="55.63" cy="309.2" rx="1.3" ry="1.2"/><ellipse cx="57.36" cy="343.7" rx="1.3" ry="1.2"/><ellipse cx="59.08" cy="311.4" rx="1.3" ry="1.2"/><ellipse cx="60.81" cy="351.0" rx="1.3" ry="1.2"/><ellipse cx="62.54" cy="351.4" rx="1.3" ry="1.2"/><ellipse cx="64.26" cy="354.3" rx="1.3" ry="1.2"/><ellipse cx="65.99" cy="344.9" rx="1.3" ry="1.2"/><ellipse cx="67.72" cy="327.3" rx="1.3" ry="1.2"/><ellipse cx="69.44" cy="312.2" rx="1.3" ry="1.2"/><ellipse cx="71.17" cy="352.4" rx="1.3" ry="1.2"/><ellipse cx="72.90" cy="315.2" rx="1.3" ry="1.2"/><ellipse cx="74.62" cy="299.0" rx="1.3" ry="1.2"/><ellipse cx="76.35" cy="337.4" rx="1.3" ry="1.2"/><ellipse cx="78.08" cy="331.3" rx="1.3" ry="1.2"/><ellipse cx="79.80" cy="314.3" rx="1.3" ry="1.2"/><ellipse cx="81.53" cy="347.3" rx="1.3" ry="1.2"/><ellipse cx="83.25" cy="325.4" rx="1.3" ry="1.2"/><ellipse cx="84.98" cy="337.8" rx="1.3" ry="1.2"/><ellipse cx="86.71" cy="342.2" rx="1.3" ry="1.2"/><ellipse cx="88.43" cy="350.5" rx="1.3" ry="1.2"/><ellipse cx="90.16" cy="340.0" rx="1.3" ry="1.2"/><ellipse cx="91.89" cy="329.5" rx="1.3" ry="1.2"/><ellipse cx="93.61" cy="345.9" rx="1.3" ry="1.2"/><ellipse cx="95.34" cy="322.8" rx="1.3" ry="1.2"/><ellipse cx="97.07" cy="327.6" rx="1.3" ry="1.2"/><ellipse cx="98.79" cy="337.1" rx="1.3" ry="1.2"/><ellipse cx="100.52" cy="301.2" rx="1.3" ry="1.2"/><ellipse cx="102.25" cy="354.6" rx="1.3" ry="1.2"/><ellipse cx="103.97" cy="300.8" rx="1.3" ry="1.2"/><ellipse cx="105.70" cy="334.2" rx="1.3" ry="1.2"/><ellipse cx="107.43" cy="348.5" rx="1.3" ry="1.2"/><ellipse cx="109.15" cy="345.6" rx="1.3" ry="1.2"/><ellipse cx="110.88" cy="313.3" rx="1.3" ry="1.2"/><ellipse cx="112.61" cy="332.4" rx="1.3" ry="1.2"/><ellipse cx="114.33" cy="347.3" rx="1.3" ry="1.2"/><ellipse cx="116.06" cy="341.5" rx="1.3" ry="1.2"/><ellipse cx="117.79" cy="324.0" rx="1.3" ry="1.2"/><ellipse cx="119.51" cy="326.2" rx="1.3" ry="1.2"/><ellipse cx="121.24" cy="341.2" rx="1.3" ry="1.2"/><ellipse cx="122.97" cy="327.9" rx="1.3" ry="1.2"/><ellipse cx="124.69" cy="336.1" rx="1.3" ry="1.2"/><ellipse cx="126.42" cy="330.8" rx="1.3" ry="1.2"/><ellipse cx="128.15" cy="332.3" rx="1.3" ry="1.2"/><ellipse cx="129.87" cy="340.5" rx="1.3" ry="1.2"/><ellipse cx="131.60" cy="327.9" rx="1.3" ry="1.2"/><ellipse cx="133.33" cy="330.5" rx="1.3" ry="1.2"/><ellipse cx="135.05" cy="325.7" rx="1.3" ry="1.2"/><ellipse cx="136.78" cy="355.4" rx="1.3" ry="1.2"/><ellipse cx="138.51" cy="358.3" rx="1.3" ry="1.2"/><ellipse cx="140.23" cy="349.5" rx="1.3" ry="1.2"/><ellipse cx="141.96" cy="325.4" rx="1.3" ry="1.2"/><ellipse cx="143.69" cy="352.9" rx="1.3" ry="1.2"/><ellipse cx="145.41" cy="320.0" rx="1.3" ry="1.2"/><ellipse cx="147.14" cy="327.2" rx="1.3" ry="1.2"/><ellipse cx="148.87" cy="313.6" rx="1.3" ry="1.2"/><ellipse cx="150.59" cy="311.9" rx="1.3" ry="1.2"/><ellipse cx="152.32" cy="326.9" rx="1.3" ry="1.2"/><ellipse cx="154.05" cy="348.8" rx="1.3" ry="1.2"/><ellipse cx="155.77" cy="351.4" rx="1.3" ry="1.2"/><ellipse cx="157.50" cy="314.3" rx="1.3" ry="1.2"/><ellipse cx="159.23" cy="348.4" rx="1.3" ry="1.2"/><ellipse cx="160.95" cy="342.2" rx="1.3" ry="1.2"/><ellipse cx="162.68" cy="325.1" rx="1.3" ry="1.2"/><ellipse cx="164.41" cy="316.7" rx="1.3" ry="1.2"/><ellipse cx="166.13" cy="296.5" rx="1.3" ry="1.2"/><ellipse cx="167.86" cy="277.4" rx="1.3" ry="1.2"/><ellipse cx="169.59" cy="334.5" rx="1.3" ry="1.2"/><ellipse cx="171.31" cy="294.3" rx="1.3" ry="1.2"/><ellipse cx="173.04" cy="366.3" rx="1.3" ry="1.2"/><ellipse cx="174.76" cy="353.2" rx="1.3" ry="1.2"/><ellipse cx="176.49" cy="322.2" rx="1.3" ry="1.2"/><ellipse cx="178.22" cy="293.6" rx="1.3" ry="1.2"/><ellipse cx="179.94" cy="353.2" rx="1.3" ry="1.2"/><ellipse cx="181.67" cy="326.2" rx="1.3" ry="1.2"/><ellipse cx="183.40" cy="290.3" rx="1.3" ry="1.2"/><ellipse cx="185.12" cy="326.9" rx="1.3" ry="1.2"/><ellipse cx="186.85" cy="353.2" rx="1.3" ry="1.2"/><ellipse cx="188.58" cy="331.0" rx="1.3" ry="1.2"/><ellipse cx="190.30" cy="324.3" rx="1.3" ry="1.2"/><ellipse cx="192.03" cy="311.7" rx="1.3" ry="1.2"/><ellipse cx="193.76" cy="297.1" rx="1.3" ry="1.2"/><ellipse cx="195.48" cy="283.4" rx="1.3" ry="1.2"/><ellipse cx="197.21" cy="321.8" rx="1.3" ry="1.2"/><ellipse cx="198.94" cy="305.0" rx="1.3" ry="1.2"/><ellipse cx="200.66" cy="316.0" rx="1.3" ry="1.2"/><ellipse cx="202.39" cy="325.4" rx="1.3" ry="1.2"/><ellipse cx="204.12" cy="321.5" rx="1.3" ry="1.2"/><ellipse cx="205.84" cy="301.2" rx="1.3" ry="1.2"/><ellipse cx="207.57" cy="353.6" rx="1.3" ry="1.2"/><ellipse cx="209.30" cy="348.4" rx="1.3" ry="1.2"/><ellipse cx="211.02" cy="294.6" rx="1.3" ry="1.2"/><ellipse cx="212.75" cy="326.9" rx="1.3" ry="1.2"/><ellipse cx="214.48" cy="336.1" rx="1.3" ry="1.2"/><ellipse cx="216.20" cy="339.3" rx="1.3" ry="1.2"/><ellipse cx="217.93" cy="354.3" rx="1.3" ry="1.2"/><ellipse cx="219.66" cy="328.1" rx="1.3" ry="1.2"/><ellipse cx="221.38" cy="342.5" rx="1.3" ry="1.2"/><ellipse cx="223.11" cy="334.5" rx="1.3" ry="1.2"/><ellipse cx="224.84" cy="331.3" rx="1.3" ry="1.2"/><ellipse cx="226.56" cy="343.2" rx="1.3" ry="1.2"/><ellipse cx="228.29" cy="354.9" rx="1.3" ry="1.2"/><ellipse cx="230.02" cy="355.4" rx="1.3" ry="1.2"/><ellipse cx="231.74" cy="356.4" rx="1.3" ry="1.2"/><ellipse cx="233.47" cy="321.5" rx="1.3" ry="1.2"/><ellipse cx="235.20" cy="353.2" rx="1.3" ry="1.2"/><ellipse cx="236.92" cy="323.2" rx="1.3" ry="1.2"/><ellipse cx="238.65" cy="326.5" rx="1.3" ry="1.2"/><ellipse cx="240.38" cy="340.3" rx="1.3" ry="1.2"/><ellipse cx="242.10" cy="347.3" rx="1.3" ry="1.2"/><ellipse cx="243.83" cy="318.4" rx="1.3" ry="1.2"/><ellipse cx="245.56" cy="326.9" rx="1.3" ry="1.2"/><ellipse cx="247.28" cy="333.5" rx="1.3" ry="1.2"/><ellipse cx="249.01" cy="378.2" rx="1.3" ry="1.2"/><ellipse cx="250.74" cy="315.7" rx="1.3" ry="1.2"/><ellipse cx="252.46" cy="351.7" rx="1.3" ry="1.2"/><ellipse cx="254.19" cy="347.6" rx="1.3" ry="1.2"/><ellipse cx="255.91" cy="334.5" rx="1.3" ry="1.2"/><ellipse cx="257.64" cy="326.5" rx="1.3" ry="1.2"/><ellipse cx="259.37" cy="343.2" rx="1.3" ry="1.2"/><ellipse cx="261.09" cy="294.6" rx="1.3" ry="1.2"/><ellipse cx="262.82" cy="336.4" rx="1.3" ry="1.2"/><ellipse cx="264.55" cy="335.4" rx="1.3" ry="1.2"/><ellipse cx="266.27" cy="344.4" rx="1.3" ry="1.2"/><ellipse cx="268.00" cy="350.3" rx="1.3" ry="1.2"/><ellipse cx="269.73" cy="351.7" rx="1.3" ry="1.2"/><ellipse cx="271.45" cy="360.9" rx="1.3" ry="1.2"/><ellipse cx="273.18" cy="348.4" rx="1.3" ry="1.2"/><ellipse cx="274.91" cy="354.2" rx="1.3" ry="1.2"/><ellipse cx="276.63" cy="325.0" rx="1.3" ry="1.2"/><ellipse cx="278.36" cy="331.3" rx="1.3" ry="1.2"/><ellipse cx="280.09" cy="323.2" rx="1.3" ry="1.2"/><ellipse cx="281.81" cy="349.5" rx="1.3" ry="1.2"/><ellipse cx="283.54" cy="290.5" rx="1.3" ry="1.2"/><ellipse cx="285.27" cy="340.3" rx="1.3" ry="1.2"/><ellipse cx="286.99" cy="312.9" rx="1.3" ry="1.2"/><ellipse cx="288.72" cy="321.4" rx="1.3" ry="1.2"/><ellipse cx="290.45" cy="315.5" rx="1.3" ry="1.2"/><ellipse cx="292.17" cy="304.1" rx="1.3" ry="1.2"/><ellipse cx="293.90" cy="316.4" rx="1.3" ry="1.2"/><ellipse cx="295.63" cy="339.0" rx="1.3" ry="1.2"/><ellipse cx="297.35" cy="333.5" rx="1.3" ry="1.2"/><ellipse cx="299.08" cy="347.3" rx="1.3" ry="1.2"/><ellipse cx="300.81" cy="370.7" rx="1.3" ry="1.2"/><ellipse cx="302.53" cy="377.1" rx="1.3" ry="1.2"/><ellipse cx="304.26" cy="366.3" rx="1.3" ry="1.2"/><ellipse cx="305.99" cy="382.2" rx="1.3" ry="1.2"/><ellipse cx="307.71" cy="411.8" rx="1.3" ry="1.2"/><ellipse cx="309.44" cy="419.1" rx="1.3" ry="1.2"/><ellipse cx="311.17" cy="377.2" rx="1.3" ry="1.2"/><ellipse cx="312.89" cy="355.4" rx="1.3" ry="1.2"/><ellipse cx="314.62" cy="344.4" rx="1.3" ry="1.2"/><ellipse cx="316.35" cy="348.4" rx="1.3" ry="1.2"/><ellipse cx="318.07" cy="338.6" rx="1.3" ry="1.2"/><ellipse cx="319.80" cy="351.3" rx="1.3" ry="1.2"/><ellipse cx="321.53" cy="372.9" rx="1.3" ry="1.2"/><ellipse cx="323.25" cy="361.5" rx="1.3" ry="1.2"/><ellipse cx="324.98" cy="355.4" rx="1.3" ry="1.2"/><ellipse cx="326.71" cy="377.5" rx="1.3" ry="1.2"/></g>
<rect x="30.5" y="243.5" width="307.7" height="209.7" fill="none" stroke="#858585" stroke-width="1"/>
<line x1="40.09" y1="453.2" x2="40.09" y2="456.7" stroke="#858585" stroke-width="1"/>
<text transform="translate(40.54 464.40) scale(1 1.04)" font-size="8.5" text-anchor="middle" fill="#000">0</text>
<line x1="126.42" y1="453.2" x2="126.42" y2="456.7" stroke="#858585" stroke-width="1"/>
<text transform="translate(127.62 464.40) scale(1 1.04)" font-size="8.5" text-anchor="middle" fill="#000">50</text>
<line x1="212.75" y1="453.2" x2="212.75" y2="456.7" stroke="#858585" stroke-width="1"/>
<text transform="translate(214.95 464.40) scale(1 1.04)" font-size="8.5" text-anchor="middle" fill="#000">100</text>
<line x1="299.08" y1="453.2" x2="299.08" y2="456.7" stroke="#858585" stroke-width="1"/>
<text transform="translate(301.28 464.40) scale(1 1.04)" font-size="8.5" text-anchor="middle" fill="#000">150</text>
<line x1="27.0" y1="431.89" x2="30.5" y2="431.89" stroke="#858585" stroke-width="1"/>
<text transform="translate(23.10 430.99) rotate(-90) scale(0.95 1.15)" font-size="8.5" text-anchor="middle" fill="#000">−3</text>
<line x1="27.0" y1="404.36" x2="30.5" y2="404.36" stroke="#858585" stroke-width="1"/>
<text transform="translate(23.10 403.46) rotate(-90) scale(0.95 1.15)" font-size="8.5" text-anchor="middle" fill="#000">−2</text>
<line x1="27.0" y1="376.83" x2="30.5" y2="376.83" stroke="#858585" stroke-width="1"/>
<text transform="translate(23.10 375.93) rotate(-90) scale(0.95 1.15)" font-size="8.5" text-anchor="middle" fill="#000">−1</text>
<line x1="27.0" y1="349.30" x2="30.5" y2="349.30" stroke="#858585" stroke-width="1"/>
<text transform="translate(23.10 348.70) rotate(-90) scale(0.95 1.15)" font-size="8.5" text-anchor="middle" fill="#000">0</text>
<line x1="27.0" y1="321.77" x2="30.5" y2="321.77" stroke="#858585" stroke-width="1"/>
<text transform="translate(23.10 321.17) rotate(-90) scale(0.95 1.15)" font-size="8.5" text-anchor="middle" fill="#000">1</text>
<line x1="27.0" y1="294.24" x2="30.5" y2="294.24" stroke="#858585" stroke-width="1"/>
<text transform="translate(23.10 293.64) rotate(-90) scale(0.95 1.15)" font-size="8.5" text-anchor="middle" fill="#000">2</text>
<line x1="27.0" y1="266.71" x2="30.5" y2="266.71" stroke="#858585" stroke-width="1"/>
<text transform="translate(23.10 266.11) rotate(-90) scale(0.95 1.15)" font-size="8.5" text-anchor="middle" fill="#000">3</text>
<text x="198.3" y="476.9" font-size="14" text-anchor="middle" fill="#000">Species</text>
<text transform="translate(10.40 348.55) rotate(-90)" font-size="14" text-anchor="middle" fill="#000">Beta of yellow vs blue bowl</text>
<path d="M45.6 436.0C44.6 435.3 43.3 435.1 42.0 435.1C39.0 435.1 37.2 437.3 37.2 440.65C37.2 444.0 39.0 446.2 42.0 446.2C43.3 446.2 44.6 445.9 45.6 445.3" stroke="#000" stroke-width="1.95" fill="none"/>
<path d="M388.55 278.3V373.9M390.27 275.4V337.2M392.00 306.5V343.7M393.73 284.1V371.7M395.45 252.6V311.8M397.18 272.7V323.9M398.91 283.2V329.4M400.63 279.6V375.0M402.36 275.4V329.4M404.09 277.1V362.2M405.81 273.9V355.4M407.54 289.0V373.0M409.27 305.6V350.6M411.00 308.1V393.3M412.72 333.4V363.6M414.45 284.1V385.5M416.18 283.2V377.2M417.90 260.3V357.6M419.63 287.0V386.7M421.36 274.9V357.9M423.08 329.2V356.8M424.81 313.3V345.5M426.54 303.8V333.4M428.26 268.1V368.0M429.99 283.2V384.5M431.72 279.6V352.8M433.44 301.2V343.2M435.17 283.2V360.4M436.90 307.0V341.8M438.62 270.5V362.2M440.35 312.2V364.4M442.08 291.0V317.2M443.80 276.4V360.4M445.53 273.5V339.7M447.26 269.1V303.5M448.98 278.3V373.9M450.71 293.9V383.6M452.44 301.2V384.1M454.17 285.1V386.7M455.89 288.8V340.8M457.62 277.1V357.7M459.35 296.3V380.3M461.07 268.1V368.5M462.80 308.1V350.7M464.53 278.1V373.9M466.25 267.6V356.8M467.98 296.1V344.5M469.71 300.2V336.6M471.43 291.4V390.4M473.16 276.1V349.7M474.89 287.0V333.8M476.61 280.3V375.8M478.34 285.1V386.3M480.07 276.1V340.3M481.79 293.9V391.1M483.52 320.8V354.0M485.25 325.3V372.3M486.97 338.5V386.9M488.70 283.2V386.4M490.43 308.1V388.3M492.15 309.2V359.4M493.88 283.2V385.7M495.61 286.3V378.4M497.34 263.0V340.8M499.06 284.1V385.7M500.79 270.1V369.6M502.52 298.0V377.6M504.24 276.1V366.7M505.97 269.1V368.9M507.70 282.2V376.9M509.42 279.3V374.0M511.15 287.6V386.4M512.88 278.3V351.3M514.60 273.9V335.9M516.33 274.6V372.5M518.06 271.3V350.1M519.78 352.9V399.5M521.51 262.2V358.6M523.24 273.9V332.9M524.96 293.2V377.6M526.69 262.2V357.9M528.42 284.1V384.9M530.14 293.2V383.5M531.87 284.1V385.7M533.60 262.2V357.9M535.32 293.2V383.0M537.05 278.3V374.0M538.78 295.4V379.8M540.51 269.5V329.5M542.23 301.2V382.7M543.96 313.3V381.3M545.69 292.0V390.3M547.41 287.3V386.4M549.14 284.1V384.9M550.87 274.2V364.5M552.59 287.8V355.2M554.32 263.0V358.6M556.05 268.1V369.6M557.77 293.9V390.3M559.50 284.1V386.0M561.23 291.4V389.6M562.95 272.3V358.7M564.68 275.7V374.0M566.41 283.7V342.9M568.13 268.4V324.4M569.86 282.2V352.0M571.59 284.7V377.6M573.31 260.0V353.6M575.04 278.3V374.7M576.77 308.1V400.3M578.49 299.7V336.5M580.22 262.2V355.4M581.95 281.2V372.5M583.68 269.5V335.3M585.40 296.8V386.4M587.13 292.9V381.9M588.86 268.1V368.0M590.58 278.3V367.0M592.31 284.1V386.0M594.04 295.4V351.0M595.76 295.4V379.4M597.49 267.6V346.4M599.22 296.1V367.3M600.94 303.1V341.3M602.67 291.7V389.2M604.40 251.1V331.7M606.12 307.0V355.6M607.85 285.1V366.6M609.58 308.1V376.1M611.30 277.1V366.6M613.03 286.3V360.1M614.76 317.0V383.6M616.48 260.0V356.8M618.21 295.4V377.4M619.94 285.1V386.0M621.66 276.8V373.9M623.39 277.8V368.0M625.12 298.3V332.1M626.85 279.3V330.5M628.57 288.8V338.6M630.30 265.1V343.1M632.03 267.3V362.5M633.75 284.7V377.5M635.48 276.8V353.9M637.21 287.3V373.1M638.93 276.1V361.7M640.66 287.3V387.4M642.39 266.9V359.7M644.11 294.3V378.2M645.84 268.1V369.1M647.57 347.3V411.4M649.29 342.5V390.7M651.02 311.0V395.0M652.75 362.5V417.7M654.47 361.9V415.1M656.20 384.6V445.8M657.93 314.9V381.9M659.65 292.4V391.0M661.38 295.4V362.2M663.11 310.0V394.3M664.83 298.3V348.1M666.56 296.4V348.0M668.29 306.3V365.8M670.02 289.3V373.3M671.74 287.3V359.0M673.47 321.8V361.2" stroke="#000" stroke-width="0.55" fill="none"/>
<line x1="377.1" y1="334.40" x2="684.7" y2="334.40" stroke="#333" stroke-width="0.8" stroke-dasharray="1.3 1.3"/>
<g fill="none" stroke="#000" stroke-width="0.7"><ellipse cx="388.55" cy="325.4" rx="1.3" ry="1.2"/><ellipse cx="390.27" cy="306.3" rx="1.3" ry="1.2"/><ellipse cx="392.00" cy="325.1" rx="1.3" ry="1.2"/><ellipse cx="393.73" cy="327.6" rx="1.3" ry="1.2"/><ellipse cx="395.45" cy="282.2" rx="1.3" ry="1.2"/><ellipse cx="397.18" cy="298.3" rx="1.3" ry="1.2"/><ellipse cx="398.91" cy="306.3" rx="1.3" ry="1.2"/><ellipse cx="400.63" cy="327.3" rx="1.3" ry="1.2"/><ellipse cx="402.36" cy="302.4" rx="1.3" ry="1.2"/><ellipse cx="404.09" cy="320.0" rx="1.3" ry="1.2"/><ellipse cx="405.81" cy="313.3" rx="1.3" ry="1.2"/><ellipse cx="407.54" cy="331.0" rx="1.3" ry="1.2"/><ellipse cx="409.27" cy="328.1" rx="1.3" ry="1.2"/><ellipse cx="411.00" cy="349.5" rx="1.3" ry="1.2"/><ellipse cx="412.72" cy="348.5" rx="1.3" ry="1.2"/><ellipse cx="414.45" cy="334.5" rx="1.3" ry="1.2"/><ellipse cx="416.18" cy="329.8" rx="1.3" ry="1.2"/><ellipse cx="417.90" cy="309.5" rx="1.3" ry="1.2"/><ellipse cx="419.63" cy="335.7" rx="1.3" ry="1.2"/><ellipse cx="421.36" cy="316.4" rx="1.3" ry="1.2"/><ellipse cx="423.08" cy="343.0" rx="1.3" ry="1.2"/><ellipse cx="424.81" cy="329.4" rx="1.3" ry="1.2"/><ellipse cx="426.54" cy="318.6" rx="1.3" ry="1.2"/><ellipse cx="428.26" cy="318.6" rx="1.3" ry="1.2"/><ellipse cx="429.99" cy="333.5" rx="1.3" ry="1.2"/><ellipse cx="431.72" cy="316.2" rx="1.3" ry="1.2"/><ellipse cx="433.44" cy="322.2" rx="1.3" ry="1.2"/><ellipse cx="435.17" cy="321.8" rx="1.3" ry="1.2"/><ellipse cx="436.90" cy="324.4" rx="1.3" ry="1.2"/><ellipse cx="438.62" cy="317.1" rx="1.3" ry="1.2"/><ellipse cx="440.35" cy="338.6" rx="1.3" ry="1.2"/><ellipse cx="442.08" cy="304.1" rx="1.3" ry="1.2"/><ellipse cx="443.80" cy="318.4" rx="1.3" ry="1.2"/><ellipse cx="445.53" cy="306.6" rx="1.3" ry="1.2"/><ellipse cx="447.26" cy="286.3" rx="1.3" ry="1.2"/><ellipse cx="448.98" cy="325.7" rx="1.3" ry="1.2"/><ellipse cx="450.71" cy="338.3" rx="1.3" ry="1.2"/><ellipse cx="452.44" cy="342.2" rx="1.3" ry="1.2"/><ellipse cx="454.17" cy="335.4" rx="1.3" ry="1.2"/><ellipse cx="455.89" cy="314.8" rx="1.3" ry="1.2"/><ellipse cx="457.62" cy="317.4" rx="1.3" ry="1.2"/><ellipse cx="459.35" cy="338.3" rx="1.3" ry="1.2"/><ellipse cx="461.07" cy="318.4" rx="1.3" ry="1.2"/><ellipse cx="462.80" cy="329.4" rx="1.3" ry="1.2"/><ellipse cx="464.53" cy="325.4" rx="1.3" ry="1.2"/><ellipse cx="466.25" cy="312.2" rx="1.3" ry="1.2"/><ellipse cx="467.98" cy="320.3" rx="1.3" ry="1.2"/><ellipse cx="469.71" cy="318.4" rx="1.3" ry="1.2"/><ellipse cx="471.43" cy="340.0" rx="1.3" ry="1.2"/><ellipse cx="473.16" cy="312.9" rx="1.3" ry="1.2"/><ellipse cx="474.89" cy="310.4" rx="1.3" ry="1.2"/><ellipse cx="476.61" cy="328.1" rx="1.3" ry="1.2"/><ellipse cx="478.34" cy="334.9" rx="1.3" ry="1.2"/><ellipse cx="480.07" cy="308.2" rx="1.3" ry="1.2"/><ellipse cx="481.79" cy="341.8" rx="1.3" ry="1.2"/><ellipse cx="483.52" cy="337.4" rx="1.3" ry="1.2"/><ellipse cx="485.25" cy="348.8" rx="1.3" ry="1.2"/><ellipse cx="486.97" cy="362.7" rx="1.3" ry="1.2"/><ellipse cx="488.70" cy="333.9" rx="1.3" ry="1.2"/><ellipse cx="490.43" cy="347.3" rx="1.3" ry="1.2"/><ellipse cx="492.15" cy="334.6" rx="1.3" ry="1.2"/><ellipse cx="493.88" cy="334.2" rx="1.3" ry="1.2"/><ellipse cx="495.61" cy="332.0" rx="1.3" ry="1.2"/><ellipse cx="497.34" cy="301.9" rx="1.3" ry="1.2"/><ellipse cx="499.06" cy="334.2" rx="1.3" ry="1.2"/><ellipse cx="500.79" cy="320.0" rx="1.3" ry="1.2"/><ellipse cx="502.52" cy="337.4" rx="1.3" ry="1.2"/><ellipse cx="504.24" cy="321.4" rx="1.3" ry="1.2"/><ellipse cx="505.97" cy="319.2" rx="1.3" ry="1.2"/><ellipse cx="507.70" cy="329.1" rx="1.3" ry="1.2"/><ellipse cx="509.42" cy="326.5" rx="1.3" ry="1.2"/><ellipse cx="511.15" cy="336.4" rx="1.3" ry="1.2"/><ellipse cx="512.88" cy="314.8" rx="1.3" ry="1.2"/><ellipse cx="514.60" cy="304.9" rx="1.3" ry="1.2"/><ellipse cx="516.33" cy="323.2" rx="1.3" ry="1.2"/><ellipse cx="518.06" cy="310.7" rx="1.3" ry="1.2"/><ellipse cx="519.78" cy="376.2" rx="1.3" ry="1.2"/><ellipse cx="521.51" cy="311.4" rx="1.3" ry="1.2"/><ellipse cx="523.24" cy="303.4" rx="1.3" ry="1.2"/><ellipse cx="524.96" cy="334.6" rx="1.3" ry="1.2"/><ellipse cx="526.69" cy="311.1" rx="1.3" ry="1.2"/><ellipse cx="528.42" cy="334.2" rx="1.3" ry="1.2"/><ellipse cx="530.14" cy="333.9" rx="1.3" ry="1.2"/><ellipse cx="531.87" cy="333.9" rx="1.3" ry="1.2"/><ellipse cx="533.60" cy="311.1" rx="1.3" ry="1.2"/><ellipse cx="535.32" cy="337.1" rx="1.3" ry="1.2"/><ellipse cx="537.05" cy="326.2" rx="1.3" ry="1.2"/><ellipse cx="538.78" cy="336.8" rx="1.3" ry="1.2"/><ellipse cx="540.51" cy="299.5" rx="1.3" ry="1.2"/><ellipse cx="542.23" cy="341.2" rx="1.3" ry="1.2"/><ellipse cx="543.96" cy="347.3" rx="1.3" ry="1.2"/><ellipse cx="545.69" cy="340.0" rx="1.3" ry="1.2"/><ellipse cx="547.41" cy="336.1" rx="1.3" ry="1.2"/><ellipse cx="549.14" cy="333.2" rx="1.3" ry="1.2"/><ellipse cx="550.87" cy="319.3" rx="1.3" ry="1.2"/><ellipse cx="552.59" cy="321.5" rx="1.3" ry="1.2"/><ellipse cx="554.32" cy="311.4" rx="1.3" ry="1.2"/><ellipse cx="556.05" cy="319.3" rx="1.3" ry="1.2"/><ellipse cx="557.77" cy="341.2" rx="1.3" ry="1.2"/><ellipse cx="559.50" cy="334.2" rx="1.3" ry="1.2"/><ellipse cx="561.23" cy="339.3" rx="1.3" ry="1.2"/><ellipse cx="562.95" cy="315.5" rx="1.3" ry="1.2"/><ellipse cx="564.68" cy="325.0" rx="1.3" ry="1.2"/><ellipse cx="566.41" cy="313.3" rx="1.3" ry="1.2"/><ellipse cx="568.13" cy="296.4" rx="1.3" ry="1.2"/><ellipse cx="569.86" cy="317.1" rx="1.3" ry="1.2"/><ellipse cx="571.59" cy="330.3" rx="1.3" ry="1.2"/><ellipse cx="573.31" cy="306.8" rx="1.3" ry="1.2"/><ellipse cx="575.04" cy="325.9" rx="1.3" ry="1.2"/><ellipse cx="576.77" cy="352.4" rx="1.3" ry="1.2"/><ellipse cx="578.49" cy="318.1" rx="1.3" ry="1.2"/><ellipse cx="580.22" cy="308.8" rx="1.3" ry="1.2"/><ellipse cx="581.95" cy="326.5" rx="1.3" ry="1.2"/><ellipse cx="583.68" cy="302.4" rx="1.3" ry="1.2"/><ellipse cx="585.40" cy="340.5" rx="1.3" ry="1.2"/><ellipse cx="587.13" cy="337.1" rx="1.3" ry="1.2"/><ellipse cx="588.86" cy="318.4" rx="1.3" ry="1.2"/><ellipse cx="590.58" cy="322.5" rx="1.3" ry="1.2"/><ellipse cx="592.31" cy="334.2" rx="1.3" ry="1.2"/><ellipse cx="594.04" cy="323.2" rx="1.3" ry="1.2"/><ellipse cx="595.76" cy="337.4" rx="1.3" ry="1.2"/><ellipse cx="597.49" cy="307.0" rx="1.3" ry="1.2"/><ellipse cx="599.22" cy="332.0" rx="1.3" ry="1.2"/><ellipse cx="600.94" cy="322.2" rx="1.3" ry="1.2"/><ellipse cx="602.67" cy="337.8" rx="1.3" ry="1.2"/><ellipse cx="604.40" cy="291.4" rx="1.3" ry="1.2"/><ellipse cx="606.12" cy="331.3" rx="1.3" ry="1.2"/><ellipse cx="607.85" cy="325.4" rx="1.3" ry="1.2"/><ellipse cx="609.58" cy="341.5" rx="1.3" ry="1.2"/><ellipse cx="611.30" cy="321.8" rx="1.3" ry="1.2"/><ellipse cx="613.03" cy="323.2" rx="1.3" ry="1.2"/><ellipse cx="614.76" cy="350.3" rx="1.3" ry="1.2"/><ellipse cx="616.48" cy="309.5" rx="1.3" ry="1.2"/><ellipse cx="618.21" cy="336.4" rx="1.3" ry="1.2"/><ellipse cx="619.94" cy="334.9" rx="1.3" ry="1.2"/><ellipse cx="621.66" cy="324.7" rx="1.3" ry="1.2"/><ellipse cx="623.39" cy="323.0" rx="1.3" ry="1.2"/><ellipse cx="625.12" cy="315.2" rx="1.3" ry="1.2"/><ellipse cx="626.85" cy="304.9" rx="1.3" ry="1.2"/><ellipse cx="628.57" cy="313.9" rx="1.3" ry="1.2"/><ellipse cx="630.30" cy="304.1" rx="1.3" ry="1.2"/><ellipse cx="632.03" cy="314.9" rx="1.3" ry="1.2"/><ellipse cx="633.75" cy="330.8" rx="1.3" ry="1.2"/><ellipse cx="635.48" cy="315.5" rx="1.3" ry="1.2"/><ellipse cx="637.21" cy="329.8" rx="1.3" ry="1.2"/><ellipse cx="638.93" cy="318.9" rx="1.3" ry="1.2"/><ellipse cx="640.66" cy="336.4" rx="1.3" ry="1.2"/><ellipse cx="642.39" cy="313.6" rx="1.3" ry="1.2"/><ellipse cx="644.11" cy="335.4" rx="1.3" ry="1.2"/><ellipse cx="645.84" cy="318.6" rx="1.3" ry="1.2"/><ellipse cx="647.57" cy="378.2" rx="1.3" ry="1.2"/><ellipse cx="649.29" cy="366.6" rx="1.3" ry="1.2"/><ellipse cx="651.02" cy="352.0" rx="1.3" ry="1.2"/><ellipse cx="652.75" cy="378.2" rx="1.3" ry="1.2"/><ellipse cx="654.47" cy="388.5" rx="1.3" ry="1.2"/><ellipse cx="656.20" cy="415.2" rx="1.3" ry="1.2"/><ellipse cx="657.93" cy="347.3" rx="1.3" ry="1.2"/><ellipse cx="659.65" cy="340.3" rx="1.3" ry="1.2"/><ellipse cx="661.38" cy="328.8" rx="1.3" ry="1.2"/><ellipse cx="663.11" cy="350.7" rx="1.3" ry="1.2"/><ellipse cx="664.83" cy="323.2" rx="1.3" ry="1.2"/><ellipse cx="666.56" cy="322.2" rx="1.3" ry="1.2"/><ellipse cx="668.29" cy="335.7" rx="1.3" ry="1.2"/><ellipse cx="670.02" cy="331.3" rx="1.3" ry="1.2"/><ellipse cx="671.74" cy="323.2" rx="1.3" ry="1.2"/><ellipse cx="673.47" cy="341.5" rx="1.3" ry="1.2"/></g>
<rect x="377.1" y="243.5" width="307.6" height="209.7" fill="none" stroke="#858585" stroke-width="1"/>
<line x1="386.82" y1="453.2" x2="386.82" y2="456.7" stroke="#858585" stroke-width="1"/>
<text transform="translate(387.27 464.40) scale(1 1.04)" font-size="8.5" text-anchor="middle" fill="#000">0</text>
<line x1="473.16" y1="453.2" x2="473.16" y2="456.7" stroke="#858585" stroke-width="1"/>
<text transform="translate(474.36 464.40) scale(1 1.04)" font-size="8.5" text-anchor="middle" fill="#000">50</text>
<line x1="559.50" y1="453.2" x2="559.50" y2="456.7" stroke="#858585" stroke-width="1"/>
<text transform="translate(561.70 464.40) scale(1 1.04)" font-size="8.5" text-anchor="middle" fill="#000">100</text>
<line x1="645.84" y1="453.2" x2="645.84" y2="456.7" stroke="#858585" stroke-width="1"/>
<text transform="translate(648.04 464.40) scale(1 1.04)" font-size="8.5" text-anchor="middle" fill="#000">150</text>
<line x1="373.6" y1="450.38" x2="377.1" y2="450.38" stroke="#858585" stroke-width="1"/>
<text transform="translate(369.70 449.48) rotate(-90) scale(0.95 1.15)" font-size="8.5" text-anchor="middle" fill="#000">−3</text>
<line x1="373.6" y1="411.72" x2="377.1" y2="411.72" stroke="#858585" stroke-width="1"/>
<text transform="translate(369.70 410.82) rotate(-90) scale(0.95 1.15)" font-size="8.5" text-anchor="middle" fill="#000">−2</text>
<line x1="373.6" y1="373.06" x2="377.1" y2="373.06" stroke="#858585" stroke-width="1"/>
<text transform="translate(369.70 372.16) rotate(-90) scale(0.95 1.15)" font-size="8.5" text-anchor="middle" fill="#000">−1</text>
<line x1="373.6" y1="334.40" x2="377.1" y2="334.40" stroke="#858585" stroke-width="1"/>
<text transform="translate(369.70 333.80) rotate(-90) scale(0.95 1.15)" font-size="8.5" text-anchor="middle" fill="#000">0</text>
<line x1="373.6" y1="295.74" x2="377.1" y2="295.74" stroke="#858585" stroke-width="1"/>
<text transform="translate(369.70 295.14) rotate(-90) scale(0.95 1.15)" font-size="8.5" text-anchor="middle" fill="#000">1</text>
<line x1="373.6" y1="257.08" x2="377.1" y2="257.08" stroke="#858585" stroke-width="1"/>
<text transform="translate(369.70 256.48) rotate(-90) scale(0.95 1.15)" font-size="8.5" text-anchor="middle" fill="#000">2</text>
<text x="545.2" y="476.9" font-size="14" text-anchor="middle" fill="#000">Species</text>
<text transform="translate(357.10 347.60) rotate(-90)" font-size="14" text-anchor="middle" fill="#000">Beta of white vs blue bowl</text>
<path d="M392.65 431V447.6M392.1 438.6C391.2 436.8 389.6 435.9 387.7 435.9C385.2 435.9 383.7 438.2 383.7 441.55C383.7 444.9 385.2 447.2 387.7 447.2C389.6 447.2 391.2 446.3 392.1 444.5" stroke="#000" stroke-width="1.95" fill="none"/>
</svg></div></body></html>
